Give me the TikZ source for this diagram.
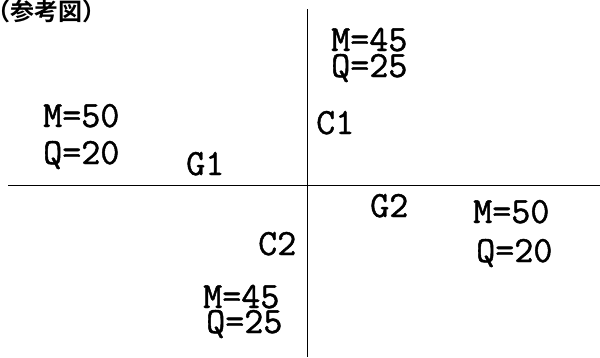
\documentclass[tikz,border=0pt]{standalone}
\usepackage{fontspec}
\newfontfamily\cjkfont{Noto Sans CJK JP}[BoldFont={* Bold}]
\newfontfamily\labfont{Latin Modern Mono}[FakeBold=1.2]
\begin{document}
\begin{tikzpicture}[x=1pt,y=-1pt,
  lab/.style={anchor=base west,inner sep=0pt,font=\fontsize{37}{37}\labfont},
  axis/.style={line width=1.8pt,black}]
\useasboundingbox (0,0) rectangle (600,357);
% axes
\coordinate (hl) at (8,185.5);
\coordinate (hr) at (600,185.5);
\coordinate (vt) at (307.5,9);
\coordinate (vb) at (307.5,357);
\draw[axis] (hl) -- (hr);
\draw[axis] (vt) -- (vb);
% title
\node[anchor=base west,inner sep=0pt,font=\fontsize{24}{24}\cjkfont\bfseries] (title) at (-14,20) {（参考図）};
% labels
\node[lab] (m1) at (331,51) {M=45};
\node[lab] (q1) at (331,77) {Q=25};
\node[lab] (c1) at (316,134) {C1};
\node[lab] (m2) at (43,127) {M=50};
\node[lab] (q2) at (43,164) {Q=20};
\node[lab] (g1) at (186,175) {G1};
\node[lab] (g2) at (370,217) {G2};
\node[lab] (m3) at (473,223) {M=50};
\node[lab] (q3) at (476,262) {Q=20};
\node[lab] (c2) at (258,255) {C2};
\node[lab] (m4) at (203,308) {M=45};
\node[lab] (q4) at (206,333) {Q=25};
\end{tikzpicture}
\end{document}
